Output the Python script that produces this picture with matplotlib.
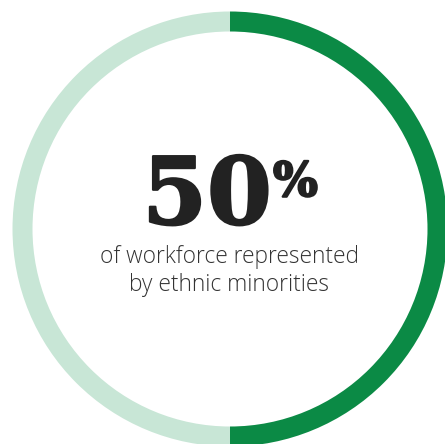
import matplotlib.pyplot as plt
import matplotlib.patheffects as pe

# Datos del grafico
labels = ["Minorias etnicas", "Resto"]
values = [50, 50]
colors = ["#0b8a45", "#c8e6d6"]

big_number = "50"
subtitle_lines = ["of workforce represented", "by ethnic minorities"]

W, H = 445, 444
fig = plt.figure(figsize=(W / 100, H / 100), dpi=100)
ax = fig.add_axes([0, 0, 1, 1])
ax.axis("off")

# Anillo (dona)
ax.pie(values, colors=colors, startangle=90, counterclock=False,
       center=(230, H - 229), radius=217.5,
       wedgeprops=dict(width=20, edgecolor="none"))
ax.set_xlim(0, W)
ax.set_ylim(0, H)
ax.set_aspect("equal")

# Texto central
grueso = [pe.withStroke(linewidth=1.6, foreground="#222222")]
ax.text(207, H - 224, big_number, fontsize=67, fontweight="bold",
        family="DejaVu Serif", color="#222222", ha="center", va="baseline",
        path_effects=grueso)
ax.text(273, H - 160, "%", fontsize=34, fontweight="bold",
        family="DejaVu Serif", color="#222222", ha="left", va="top",
        path_effects=grueso)
for i, linea in enumerate(subtitle_lines):
    ax.text(229, H - (257 + 28 * i), linea, fontsize=16.4, family="Open Sans",
            fontweight="light", color="#333333", ha="center", va="center")

plt.savefig("out.png", dpi=100)
